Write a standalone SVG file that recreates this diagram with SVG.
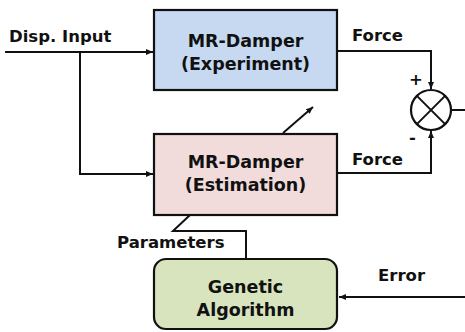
<svg xmlns="http://www.w3.org/2000/svg" width="465" height="332" viewBox="0 0 465 332">
<style>
text{font-family:"DejaVu Sans","Liberation Sans",sans-serif;font-weight:bold;fill:#111;}
.lbl{font-size:16.5px;}
.box{font-size:17.5px;text-anchor:middle;}
.node{stroke:#111;stroke-width:2.2;}
.ln{fill:none;stroke:#111;stroke-width:2;}
</style>
<defs>
<marker id="ah" markerWidth="8" markerHeight="8" refX="7" refY="4" orient="auto" markerUnits="userSpaceOnUse">
<path d="M0,1 L7,4 L0,7 Z" fill="#111"/>
</marker>
</defs>
<rect width="465" height="332" fill="#fff"/>
<g id="connectors">
<path class="ln" d="M5,52 L153,52" marker-end="url(#ah)"/>
<path class="ln" d="M80,52 L80,174 L153,174" marker-end="url(#ah)"/>
<path class="ln" d="M337,51 L431,51 L431,89" marker-end="url(#ah)"/>
<path class="ln" d="M337,173 L431,173 L431,131" marker-end="url(#ah)"/>
<path class="ln" d="M451,110 L465,110"/>
<path class="ln" d="M283,133 L313,107" marker-end="url(#ah)"/>
<path class="ln" d="M190,215 L173,231 L246,231 L246,259"/>
<path class="ln" d="M465,297 L339,297" marker-end="url(#ah)"/>
</g>
<g id="exp">
<rect class="node" x="154" y="10" width="183" height="80" fill="#c6d9f1"/>
<text class="box" x="245.5" y="47">MR-Damper</text>
<text class="box" x="245.5" y="70">(Experiment)</text>
</g>
<g id="est">
<rect class="node" x="154" y="134" width="183" height="81" fill="#f2dcdb"/>
<text class="box" x="245.5" y="168">MR-Damper</text>
<text class="box" x="245.5" y="191">(Estimation)</text>
</g>
<g id="ga">
<rect class="node" x="154" y="259" width="183" height="70" rx="12" fill="#d7e4bd"/>
<text class="box" x="245.5" y="293">Genetic</text>
<text class="box" x="245.5" y="316">Algorithm</text>
</g>
<g id="sum">
<circle class="node" cx="431" cy="110" r="20" fill="#fff"/>
<path class="ln" d="M416.9,95.9 L445.1,124.1 M445.1,95.9 L416.9,124.1"/>
</g>
<g id="labels">
<text class="lbl" x="9" y="42">Disp. Input</text>
<text class="lbl" x="352" y="41">Force</text>
<text class="lbl" x="352" y="165">Force</text>
<text class="lbl" x="117" y="248">Parameters</text>
<text class="lbl" x="378" y="281">Error</text>
<text class="lbl" x="409" y="85">+</text>
<text class="lbl" x="409" y="143">-</text>
</g>
</svg>
